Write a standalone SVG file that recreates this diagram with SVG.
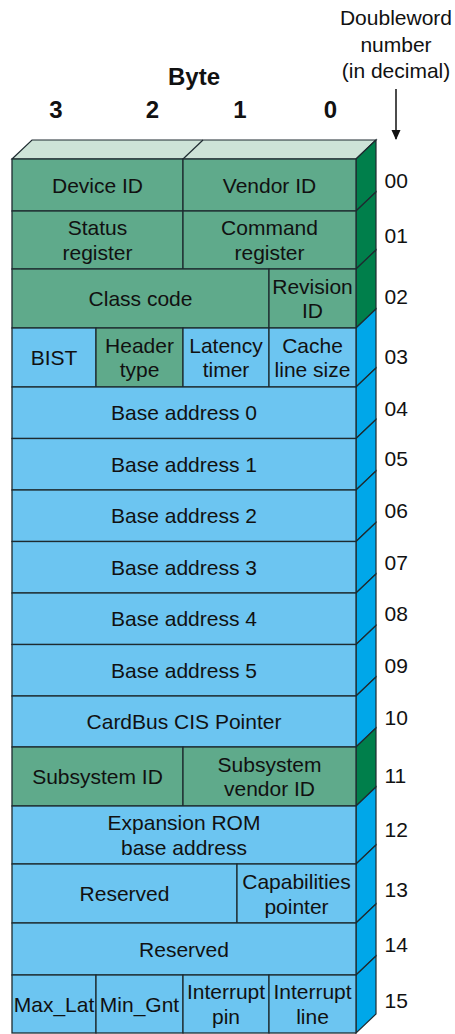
<svg xmlns="http://www.w3.org/2000/svg" width="455" height="1034" viewBox="0 0 455 1034">
<style>
text{font-family:"Liberation Sans",Arial,sans-serif;font-size:21px;fill:#111;text-anchor:middle}
.hd{font-weight:bold;font-size:24px}
.num{text-anchor:start}
.g{fill:#5faa8b;stroke:#1e2b30;stroke-width:1.3}
.b{fill:#6cc5f1;stroke:#1e2b30;stroke-width:1.3}
.sg{fill:#007f4b;stroke:#1e2b30;stroke-width:1.2}
.sb{fill:#00a7e9;stroke:#1e2b30;stroke-width:1.2}
.top{fill:#cde3d7;stroke:#1e2b30;stroke-width:1.2}
</style>
<defs>
<marker id="ah" markerWidth="10" markerHeight="10" refX="9" refY="5" orient="auto" markerUnits="userSpaceOnUse">
<path d="M0,0.5 L10,5 L0,9.5 Z" fill="#111"/>
</marker>
</defs>
<g id="header">
<text class="hd" x="194" y="85">Byte</text>
<text class="hd" x="56" y="118">3</text>
<text class="hd" x="152.5" y="118">2</text>
<text class="hd" x="240" y="118">1</text>
<text class="hd" x="330.5" y="118">0</text>
<text x="396" y="25">Doubleword</text>
<text x="396" y="51.5">number</text>
<text x="396" y="78">(in decimal)</text>
</g>
<g id="connectors">
<line x1="396" y1="89" x2="396" y2="139" stroke="#111" stroke-width="1.5" marker-end="url(#ah)"/>
</g>
<g id="top-face">
<polygon class="top" points="12,159 32,140 376,140 356,159"/>
<line x1="183" y1="159" x2="203" y2="140" stroke="#1e2b30" stroke-width="1.2"/>
</g>
<g id="side-face">
<polygon class="sg" points="356,159 376,140 376,192 356,211"/>
<polygon class="sg" points="356,211 376,192 376,250 356,269"/>
<polygon class="sg" points="356,269 376,250 376,309 356,328"/>
<polygon class="sb" points="356,328 376,309 376,368 356,387"/>
<polygon class="sb" points="356,387 376,368 376,419.5 356,438.5"/>
<polygon class="sb" points="356,438.5 376,419.5 376,471 356,490"/>
<polygon class="sb" points="356,490 376,471 376,522.5 356,541.5"/>
<polygon class="sb" points="356,541.5 376,522.5 376,574 356,593"/>
<polygon class="sb" points="356,593 376,574 376,625.5 356,644.5"/>
<polygon class="sb" points="356,644.5 376,625.5 376,677 356,696"/>
<polygon class="sb" points="356,696 376,677 376,728 356,747"/>
<polygon class="sg" points="356,747 376,728 376,787 356,806"/>
<polygon class="sb" points="356,806 376,787 376,845 356,864"/>
<polygon class="sb" points="356,864 376,845 376,904 356,923"/>
<polygon class="sb" points="356,923 376,904 376,956 356,975"/>
<polygon class="sb" points="356,975 376,956 376,1014 356,1033"/>
</g>
<g id="dw00"><rect class="g" x="12" y="159" width="171" height="52"/><text x="97.5" y="192.5">Device ID</text></g>
<g id="dw00b"><rect class="g" x="183" y="159" width="173" height="52"/><text x="269.5" y="192.5">Vendor ID</text></g>
<g id="dw01"><rect class="g" x="12" y="211" width="171" height="58"/><text x="97.5" y="235">Status</text><text x="97.5" y="259.5">register</text></g>
<g id="dw01b"><rect class="g" x="183" y="211" width="173" height="58"/><text x="269.5" y="235">Command</text><text x="269.5" y="259.5">register</text></g>
<g id="dw02"><rect class="g" x="12" y="269" width="257" height="59"/><text x="140.5" y="305.5">Class code</text></g>
<g id="dw02b"><rect class="g" x="269" y="269" width="87" height="59"/><text x="312.5" y="293.5">Revision</text><text x="312.5" y="318">ID</text></g>
<g id="dw03a"><rect class="b" x="12" y="328" width="84" height="59"/><text x="54" y="365">BIST</text></g>
<g id="dw03b"><rect class="g" x="96" y="328" width="87" height="59"/><text x="139.5" y="352.5">Header</text><text x="139.5" y="377">type</text></g>
<g id="dw03c"><rect class="b" x="183" y="328" width="86" height="59"/><text x="226" y="352.5">Latency</text><text x="226" y="377">timer</text></g>
<g id="dw03d"><rect class="b" x="269" y="328" width="87" height="59"/><text x="312.5" y="352.5">Cache</text><text x="312.5" y="377">line size</text></g>
<g id="dw04"><rect class="b" x="12" y="387" width="344" height="51.5"/><text x="184" y="420">Base address 0</text></g>
<g id="dw05"><rect class="b" x="12" y="438.5" width="344" height="51.5"/><text x="184" y="471.5">Base address 1</text></g>
<g id="dw06"><rect class="b" x="12" y="490" width="344" height="51.5"/><text x="184" y="523">Base address 2</text></g>
<g id="dw07"><rect class="b" x="12" y="541.5" width="344" height="51.5"/><text x="184" y="574.5">Base address 3</text></g>
<g id="dw08"><rect class="b" x="12" y="593" width="344" height="51.5"/><text x="184" y="626">Base address 4</text></g>
<g id="dw09"><rect class="b" x="12" y="644.5" width="344" height="51.5"/><text x="184" y="677.5">Base address 5</text></g>
<g id="dw10"><rect class="b" x="12" y="696" width="344" height="51"/><text x="184" y="729">CardBus CIS Pointer</text></g>
<g id="dw11"><rect class="g" x="12" y="747" width="171" height="59"/><text x="97.5" y="784">Subsystem ID</text></g>
<g id="dw11b"><rect class="g" x="183" y="747" width="173" height="59"/><text x="269.5" y="771.5">Subsystem</text><text x="269.5" y="796">vendor ID</text></g>
<g id="dw12"><rect class="b" x="12" y="806" width="344" height="58"/><text x="184" y="830">Expansion ROM</text><text x="184" y="854.5">base address</text></g>
<g id="dw13"><rect class="b" x="12" y="864" width="225" height="59"/><text x="124.5" y="901">Reserved</text></g>
<g id="dw13b"><rect class="b" x="237" y="864" width="119" height="59"/><text x="296.5" y="889">Capabilities</text><text x="296.5" y="913.5">pointer</text></g>
<g id="dw14"><rect class="b" x="12" y="923" width="344" height="52"/><text x="184" y="956.5">Reserved</text></g>
<g id="dw15a"><rect class="b" x="12" y="975" width="84" height="58"/><text x="54" y="1012">Max_Lat</text></g>
<g id="dw15b"><rect class="b" x="96" y="975" width="87" height="58"/><text x="139.5" y="1012">Min_Gnt</text></g>
<g id="dw15c"><rect class="b" x="183" y="975" width="86" height="58"/><text x="226" y="999">Interrupt</text><text x="226" y="1023.5">pin</text></g>
<g id="dw15d"><rect class="b" x="269" y="975" width="87" height="58"/><text x="312.5" y="999">Interrupt</text><text x="312.5" y="1023.5">line</text></g>
<g id="numbers">
<text class="num" x="384.5" y="188">00</text>
<text class="num" x="384.5" y="243">01</text>
<text class="num" x="384.5" y="304">02</text>
<text class="num" x="384.5" y="364">03</text>
<text class="num" x="384.5" y="415.5">04</text>
<text class="num" x="384.5" y="466">05</text>
<text class="num" x="384.5" y="518">06</text>
<text class="num" x="384.5" y="569.5">07</text>
<text class="num" x="384.5" y="621">08</text>
<text class="num" x="384.5" y="672.5">09</text>
<text class="num" x="384.5" y="725">10</text>
<text class="num" x="384.5" y="783">11</text>
<text class="num" x="384.5" y="837">12</text>
<text class="num" x="384.5" y="897">13</text>
<text class="num" x="384.5" y="952">14</text>
<text class="num" x="384.5" y="1008">15</text>
</g>
</svg>
